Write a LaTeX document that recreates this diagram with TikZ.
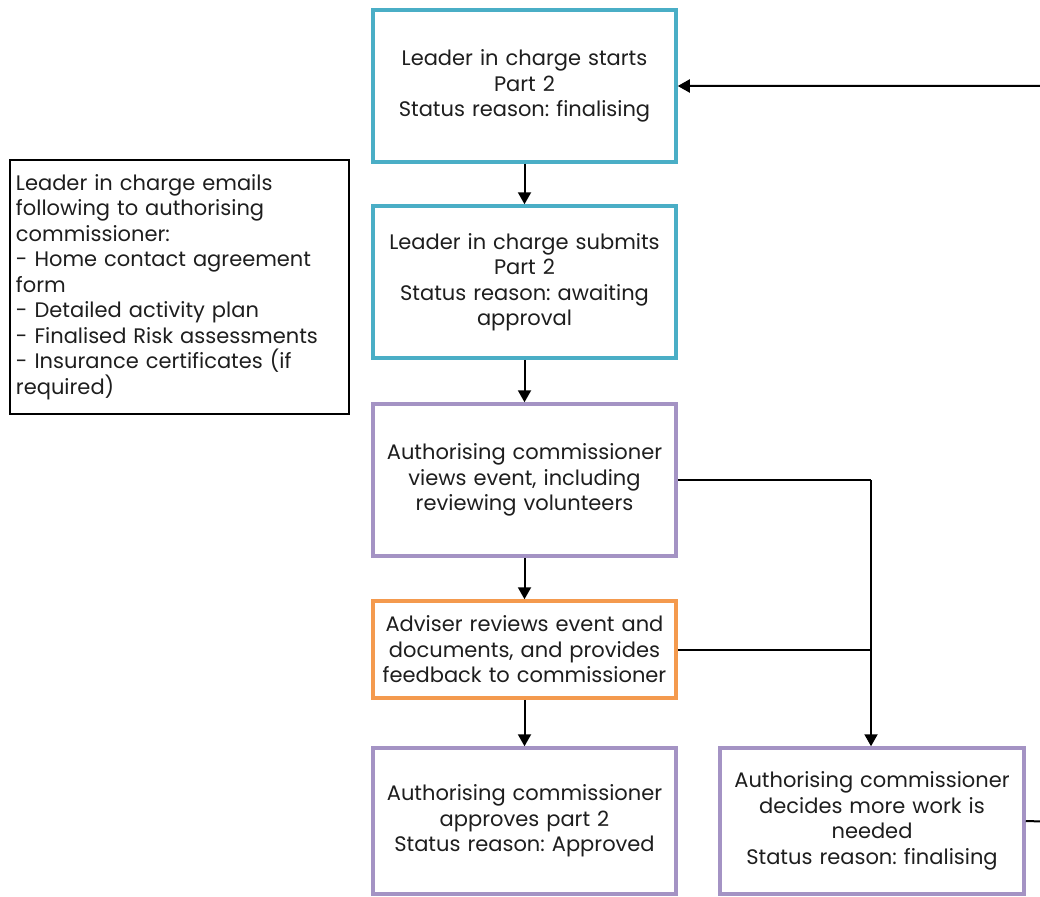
\documentclass[tikz,border=0pt]{standalone}
\usepackage{fontspec}
\setmainfont{Poppins}
\frenchspacing
\usetikzlibrary{arrows.meta}
\definecolor{cyanline}{HTML}{4AAEC6}
\definecolor{purpleline}{HTML}{A493C4}
\definecolor{orangeline}{HTML}{F49A4E}
\definecolor{inkgrey}{HTML}{1E1E1E}

\begin{document}
\begin{tikzpicture}[x=1pt, y=-1pt,
	font=\fontsize{21}{25.5}\selectfont, text=inkgrey,
	box/.style={draw, line width=3.5pt, fill=white, minimum width=303pt, align=center, text width=294pt},
	cyanbox/.style={box, draw=cyanline, minimum height=152pt},
	purplebox/.style={box, draw=purpleline, minimum height=152pt},
	orangebox/.style={box, draw=orangeline, minimum height=97pt},
	notebox/.style={draw=black, line width=1.2pt, align=left, text width=327pt, minimum width=339pt, minimum height=254pt},
	wire/.style={line width=2pt, black},
	link/.style={wire, -{Triangle[length=12pt, width=13pt]}}]
\useasboundingbox (0,0) rectangle (1040,896);
\clip (0,0) rectangle (1040,896);

\node[cyanbox] (starts) at (524.5, 86) {Leader in charge starts\\Part 2\\Status reason: finalising};
\node[cyanbox] (submits) at (524.5, 282) {Leader in charge submits\\Part 2\\Status reason: awaiting\\approval};
\node[purplebox] (views) at (524.5, 480) {Authorising commissioner\\views event, including\\reviewing volunteers};
\node[orangebox] (adviser) at (524.5, 649.5) {Adviser reviews event and\\documents, and provides\\feedback to commissioner};
\node[purplebox, minimum height=146pt] (approves) at (524.5, 821) {Authorising commissioner\\approves part 2\\Status reason: Approved};
\node[purplebox, minimum height=146pt, minimum width=304pt] (morework) at (872, 821) {Authorising commissioner\\decides more work is\\needed\\Status reason: finalising};

\node[notebox] (emails) at (179.5, 287) {Leader in charge emails\\following to authorising\\commissioner:\\- Home contact agreement\\form\\- Detailed activity plan\\- Finalised Risk assessments\\- Insurance certificates (if\\required)};

\coordinate (joint) at (871, 480);
\coordinate (loopback) at (1060, 822);

\foreach \a/\b in {starts/submits, submits/views, views/adviser, adviser/approves}
	\draw[link] (\a) -- (\b);

\draw[wire] (views.east) -- (joint);
\draw[wire] (adviser.east) -- (adviser.east -| joint);
\draw[link] (joint) -- (joint |- morework.north);
\draw[link] (morework.east) -- (loopback) |- (starts.east);
\end{tikzpicture}
\end{document}
